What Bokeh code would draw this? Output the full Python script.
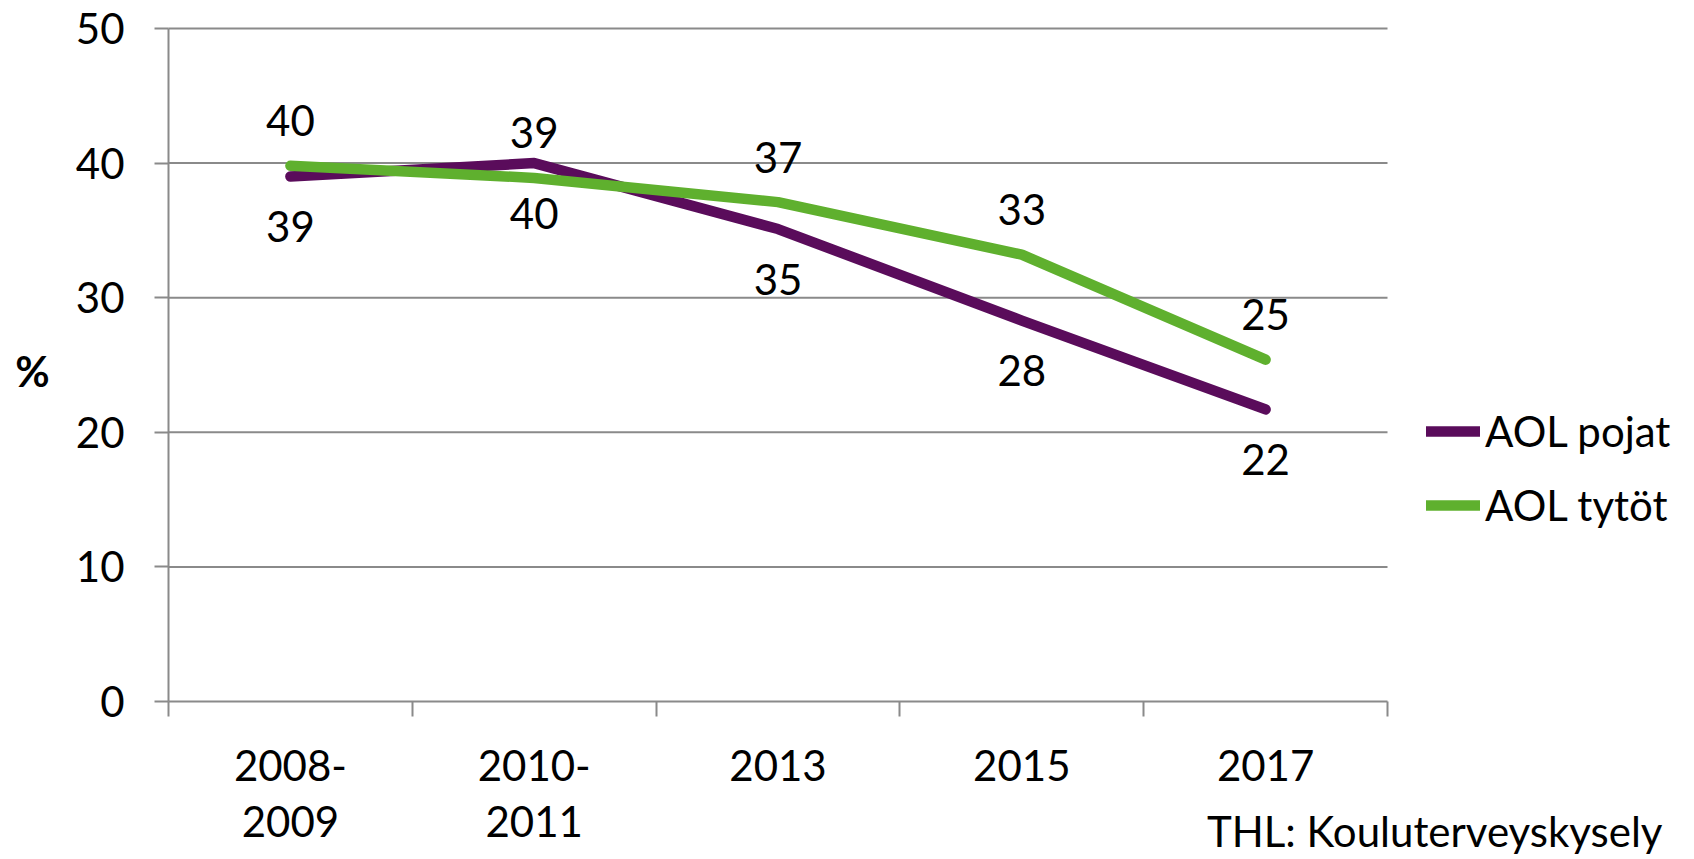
from bokeh.plotting import figure
from bokeh.models import (Range1d, LinearAxis, FixedTicker,
                          Legend, LegendItem, Label, ColumnDataSource)
from bokeh.core.properties import value
from bokeh.embed import file_html
from bokeh.resources import INLINE

# ---- data ----
categories = ["2008-\n2009", "2010-\n2011", "2013", "2015", "2017"]
pojat = [39.0, 40.0, 35.1, 28.3, 21.7]
tytot = [39.8, 38.9, 37.1, 33.2, 25.4]
y_ticks = [0, 10, 20, 30, 40, 50]
series_names = ["AOL pojat", "AOL tytöt"]
y_label = "%"
source_text = "THL: Kouluterveyskysely"

# ---- style / layout ----
PURPLE = "#5a0c5b"
GREEN = "#5fb02e"
GRID = "#8a8a8a"
FONT = "Lato"
FS = "42px"
W, H = 1690, 857
PX_X0, PX_X1 = 168, 1387      # canvas x of the plot area's left / right edges
PX_Y0, PX_YT = 701, 28        # canvas y of value 0 / value 50

n = len(categories)
ymax = y_ticks[-1]
xpos = [i + 0.5 for i in range(n)]          # category centres on a 0..n scale
ppx = (PX_X1 - PX_X0) / n
ppy = (PX_Y0 - PX_YT) / ymax

p = figure(x_range=Range1d(-PX_X0 / ppx, (W - PX_X0) / ppx),
           y_range=Range1d((PX_Y0 - H) / ppy, PX_Y0 / ppy),
           width=W, height=H, min_border=0,
           output_backend="svg", toolbar_location=None,
           x_axis_location=None, y_axis_location=None)
p.outline_line_color = None
p.background_fill_color = "white"
p.border_fill_color = "white"
p.xgrid.visible = False
p.ygrid.visible = False

# horizontal gridlines across the plot area
p.segment(x0=[0] * (len(y_ticks) - 1), x1=[n] * (len(y_ticks) - 1),
          y0=y_ticks[1:], y1=y_ticks[1:], line_color=GRID, line_width=2)

# y axis
yax = LinearAxis(ticker=FixedTicker(ticks=y_ticks), fixed_location=0, bounds=(0, ymax),
                 axis_line_color=GRID, axis_line_width=2,
                 major_tick_line_color=GRID, major_tick_line_width=2,
                 major_tick_out=14, major_tick_in=0, minor_tick_line_color=None,
                 major_label_text_font=FONT, major_label_text_font_size=FS,
                 major_label_text_color="black", major_label_standoff=30)
p.add_layout(yax, "left")

# x axis: boundary ticks
edge_axis = LinearAxis(ticker=FixedTicker(ticks=list(range(n + 1))), fixed_location=0,
                       bounds=(0, n),
                       axis_line_color=GRID, axis_line_width=2,
                       major_tick_line_color=GRID, major_tick_line_width=2,
                       major_tick_out=15, major_tick_in=0,
                       minor_tick_line_color=None,
                       major_label_text_font_size="6px", major_label_text_color=None)
p.add_layout(edge_axis, "below")

# x axis: category labels at centres
cat_axis = LinearAxis(ticker=FixedTicker(ticks=xpos), fixed_location=0,
                      major_label_overrides={x: c for x, c in zip(xpos, categories)},
                      axis_line_color=None, major_tick_line_color=None,
                      major_tick_out=0, major_tick_in=0,
                      minor_tick_line_color=None,
                      major_label_text_font=FONT, major_label_text_font_size=FS,
                      major_label_text_color="black",
                      major_label_text_line_height=1.12,
                      major_label_standoff=38)
p.add_layout(cat_axis, "below")

# lines
r1 = p.line(x=xpos, y=pojat, line_color=PURPLE, line_width=10.5,
            line_cap="round", line_join="round")
r2 = p.line(x=xpos, y=tytot, line_color=GREEN, line_width=10.5,
            line_cap="round", line_join="round")

# data labels
src_p = ColumnDataSource(dict(x=xpos, y=pojat, t=[f"{v:.0f}" for v in pojat]))
src_t = ColumnDataSource(dict(x=xpos, y=tytot, t=[f"{v:.0f}" for v in tytot]))
p.text(x="x", y="y", text="t", source=src_p, text_font=value(FONT), text_font_size=FS,
       text_align="center", text_baseline="middle", y_offset=50, text_color="black")
p.text(x="x", y="y", text="t", source=src_t, text_font=value(FONT), text_font_size=FS,
       text_align="center", text_baseline="middle", y_offset=-45, text_color="black")

# legend (inside the full-canvas frame)
legend = Legend(items=[LegendItem(label=series_names[0], renderers=[r1]),
                       LegendItem(label=series_names[1], renderers=[r2])],
                location=(1426, H - 530), glyph_width=54, glyph_height=50, label_height=50,
                label_text_font=FONT, label_text_font_size=FS, label_text_color="black",
                label_standoff=5, spacing=24, padding=0, margin=0,
                border_line_color=None, background_fill_alpha=0)
p.add_layout(legend, "center")

# "%" label and source
p.add_layout(Label(x=(32 - PX_X0) / ppx, y=(PX_Y0 - 370) / ppy, text=y_label,
                   text_font=FONT, text_font_style="bold", text_font_size=FS,
                   text_align="center", text_baseline="middle", text_color="black"))
p.add_layout(Label(x=(1662 - PX_X0) / ppx, y=(PX_Y0 - 830) / ppy, text=source_text,
                   text_font=FONT, text_font_size=FS,
                   text_align="right", text_baseline="middle", text_color="black"))

open("out.html", "w").write(file_html(p, INLINE))
